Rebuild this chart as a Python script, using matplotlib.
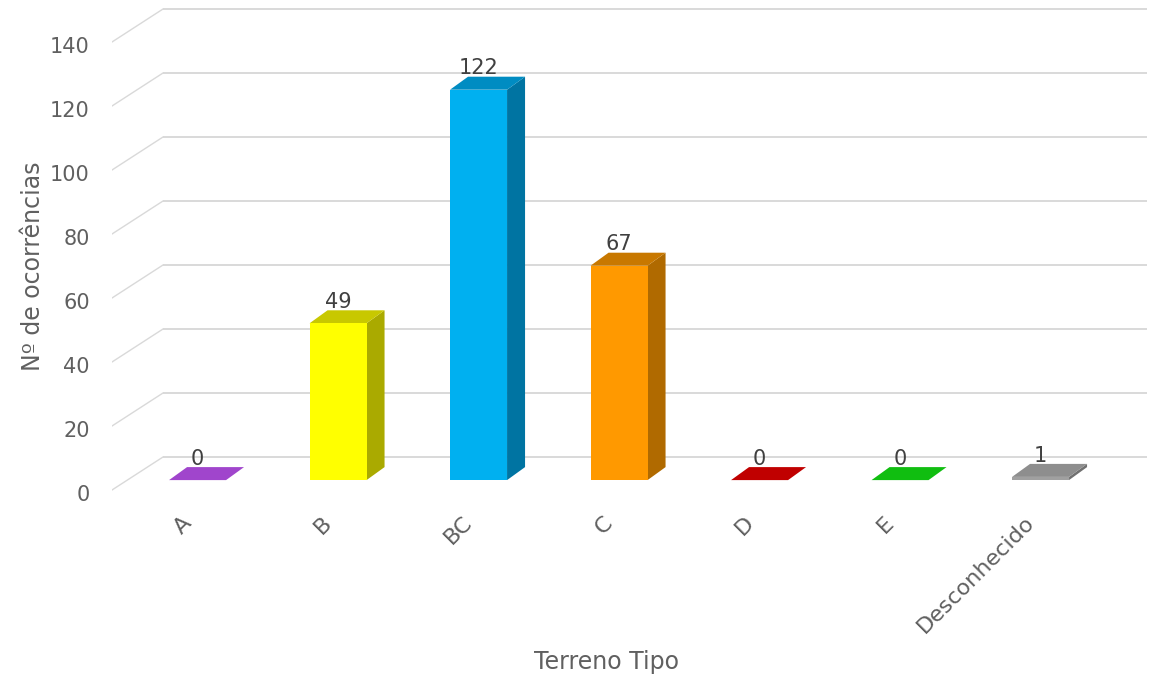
import matplotlib
matplotlib.use("Agg")
import matplotlib.pyplot as plt
from matplotlib.patches import Polygon
from matplotlib.transforms import ScaledTranslation

# ---- data ----
categories = ["A", "B", "BC", "C", "D", "E", "Desconhecido"]
counts = [0, 49, 122, 67, 0, 0, 1]
y_ticks = [0, 20, 40, 60, 80, 100, 120, 140]

front_colors = ["#A045CC", "#FFFF00", "#00B0F0", "#FF9900", "#C00000", "#10BE10", "#A0A0A0"]
side_colors = ["#7A2FA0", "#AAAA00", "#0074A2", "#B06A00", "#8A0000", "#0A8A0A", "#707070"]
top_colors = ["#A045CC", "#C8C800", "#008CC2", "#C87800", "#C00000", "#10BE10", "#8E8E8E"]

text_color = "#606060"
grid_color = "#D9D9D9"
plt.rcParams["font.family"] = ["DejaVu Sans"]

# ---- figure / axes geometry (pixel-based layout) ----
W, H, DPI = 1162, 693, 100
fig = plt.figure(figsize=(W / DPI, H / DPI), dpi=DPI)
ax_left, ax_right, ax_bottom, ax_top = 112, 1150, 500, 0  # pixels
ax = fig.add_axes([ax_left / W, (H - ax_bottom) / H,
                   (ax_right - ax_left) / W, (ax_bottom - ax_top) / H])

px_per_cat = 140.5
px_per_unit = 3.2
zero_px = 490  # pixel row of value 0 at the front edge of the floor
ax.set_xlim(-0.5, -0.5 + (ax_right - ax_left) / px_per_cat)
ax.set_ylim((zero_px - ax_bottom) / px_per_unit, (zero_px - ax_top) / px_per_unit)

# oblique depth of the plot box (front -> back wall)
DX = 51 / px_per_cat
DY = 33 / px_per_unit
# bar placement in depth and the depth of each bar
d0 = 0.3
BDX = 18 / px_per_cat
BDY = 13 / px_per_unit
bar_w = 57 / px_per_cat

n = len(categories)
x0, x1 = -0.5, n - 0.5

# back wall gridlines and left wall diagonals
for v in y_ticks:
    ax.plot([x0 + DX, x1 + DX], [v + DY, v + DY], color=grid_color, lw=1.4,
            zorder=0, solid_capstyle="butt")
    ax.plot([x0, x0 + DX], [v, v + DY], color=grid_color, lw=1.0, zorder=0)

# 3-D style columns
for i, (v, fc, sc, tc) in enumerate(zip(counts, front_colors, side_colors, top_colors)):
    cx = i + d0 * DX
    base = d0 * DY
    xl, xr = cx - bar_w / 2, cx + bar_w / 2
    z = 2 + i
    side = Polygon([(xr, base), (xr + BDX, base + BDY),
                    (xr + BDX, base + BDY + v), (xr, base + v)],
                   closed=True, facecolor=sc, edgecolor="none", zorder=z)
    top = Polygon([(xl, base + v), (xr, base + v),
                   (xr + BDX, base + v + BDY), (xl + BDX, base + v + BDY)],
                  closed=True, facecolor=tc, edgecolor="none", zorder=z)
    ax.add_patch(side)
    ax.add_patch(top)
    ax.bar(cx, v, bottom=base, width=bar_w, color=fc, edgecolor="none", zorder=z)
    ax.text(cx, base + v + BDY - 0.5, f"{v}", ha="center", va="bottom",
            fontsize=15, color="#404040", zorder=20)

# axes decoration
for s in ax.spines.values():
    s.set_visible(False)
ax.set_yticks(y_ticks)
ax.set_yticklabels([str(t) for t in y_ticks])
ax.tick_params(axis="y", length=0, pad=16, labelsize=15, labelcolor=text_color)
for lab in ax.get_yticklabels():
    lab.set_transform(lab.get_transform() + ScaledTranslation(0, -3 / DPI, fig.dpi_scale_trans))

ax.set_xticks(range(n))
ax.set_xticklabels(categories, rotation=45, ha="right", va="top",
                   rotation_mode="anchor")
ax.tick_params(axis="x", length=0, pad=9, labelsize=16, labelcolor=text_color)
for lab in ax.get_xticklabels():
    lab.set_transform(lab.get_transform() + ScaledTranslation(-1 / DPI, 0, fig.dpi_scale_trans))

ax.set_xlabel("Terreno Tipo", fontsize=17, color=text_color, va="center")
ax.xaxis.set_label_coords((607 - ax_left) / (ax_right - ax_left),
                          (ax_bottom - 662) / (ax_bottom - ax_top))
ax.set_ylabel("Nº de ocorrências", fontsize=17, color=text_color, va="center")
ax.yaxis.set_label_coords((33 - ax_left) / (ax_right - ax_left),
                          (ax_bottom - 266) / (ax_bottom - ax_top))

fig.savefig("out.png", dpi=DPI, facecolor="white")
